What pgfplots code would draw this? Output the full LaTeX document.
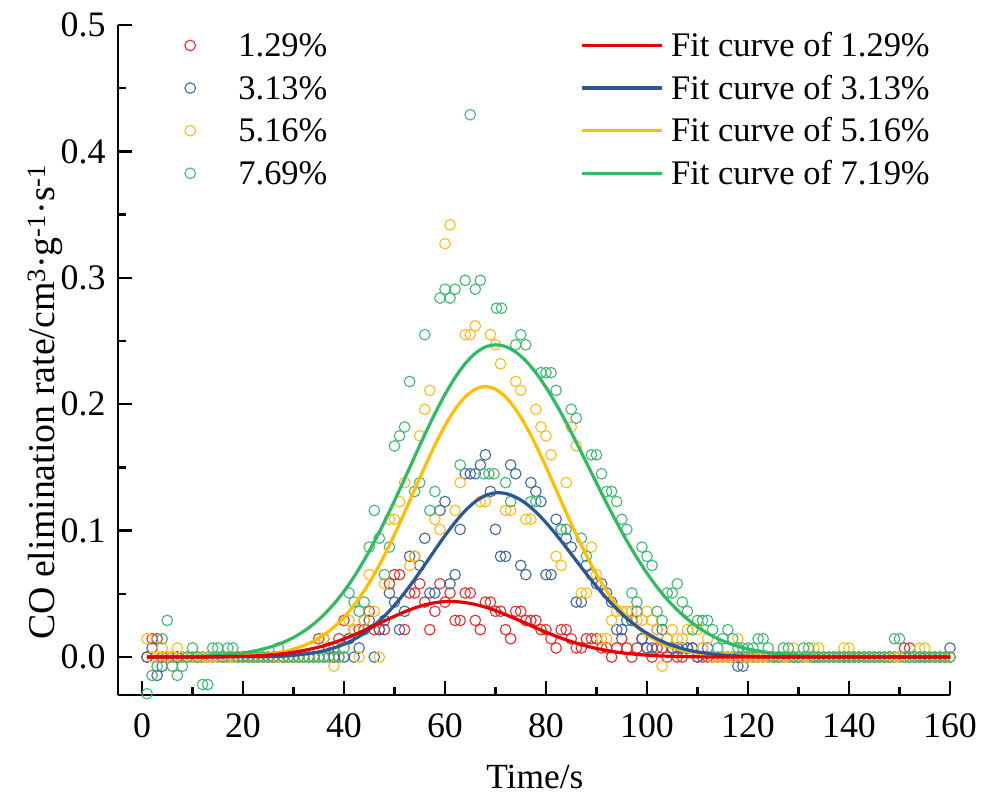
\documentclass[border=0pt]{standalone}
\usepackage{fontspec}
\setmainfont{Liberation Serif}
\usepackage{pgfplots}
\pgfplotsset{compat=1.18}
\definecolor{mred}{RGB}{232,45,45}
\definecolor{mblue}{RGB}{62,104,168}
\definecolor{myellow}{RGB}{255,188,20}
\definecolor{mgreen}{RGB}{62,186,112}
\definecolor{cred}{RGB}{228,0,0}
\definecolor{cblue}{RGB}{42,88,150}
\definecolor{cyellow}{RGB}{255,190,0}
\definecolor{cgreen}{RGB}{48,186,100}
\pgfplotsset{
  common/.style={
    scale only axis, width=832bp, height=670bp,
    xmin=-4.75, xmax=160, ymin=-0.03, ymax=0.5,
  },
  sc/.style={only marks, mark=o, mark size=5.3bp, color=#1, mark options={line width=1.1bp, solid}},
  fc/.style={no marks, smooth, line width=3.2bp, color=#1},
}
\begin{document}
\begin{tikzpicture}
\begin{axis}[common, name=main,
  axis x line*=bottom, axis y line*=left,
  axis line style={black, line width=2.4bp},
  xtick={0,20,40,60,80,100,120,140,160},
  ytick={0,0.1,0.2,0.3,0.4,0.5},
  minor x tick num=1, minor y tick num=1,
  tick align=inside,
  major tick length=14bp, minor tick length=8bp,
  tick style={black, line width=2.4bp},
  /pgf/number format/assume math mode=true,
  yticklabel style={/pgf/number format/.cd, fixed, fixed zerofill, precision=1, /tikz/.cd, xshift=-9bp},
  xticklabel style={/pgf/number format/.cd, fixed, precision=0, /tikz/.cd, yshift=-15bp},
  tick label style={font=\fontsize{36}{42}\selectfont},
  xlabel style={font=\fontsize{35.5}{42}\selectfont},
  ylabel style={font=\fontsize{38}{44}\selectfont},
  xlabel={Time/s},
  ylabel={CO elimination rate/cm\textsuperscript{3}·g\textsuperscript{-1}·s\textsuperscript{-1}},
  xlabel style={at={(rel axis cs:0.501,-0.122)}, anchor=center},
  ylabel style={at={(rel axis cs:-0.0877,0.437)}, anchor=center},
  legend cell align=left,
  legend style={draw=none, fill=none, at={(rel axis cs:0.0577,0.9978)}, anchor=north west,
    inner sep=0pt, outer sep=0pt, row sep=4.6bp, column sep=0pt,
    font=\fontsize{34.6}{40}\selectfont,
    nodes={inner sep=0pt, text height=30bp, text depth=8bp}},
  legend image code/.code={\draw[#1] plot coordinates {(24bp,0bp)}; \path (0bp,0bp) (72bp,0bp);},
]
% 1.29%
\addplot[sc=mred] table {
1 0
2 0.0145
3 0.0145
4 0
5 0
6 0
7 0
8 0
9 0
10 0
11 0
12 0
13 0
14 0
15 0
16 0
17 0
18 0
19 0
20 0
21 0
22 0
23 0
24 0
25 0
26 0
27 0
28 0
29 0
30 0
31 0
32 0
33 0
34 0
35 0.0145
36 0.0145
37 0.0072
38 0
39 0.0145
40 0.029
41 0.0145
42 0.0217
43 0.0217
44 0.029
45 0.0362
46 0.0217
47 0.0217
48 0.0217
49 0.058
50 0.0652
51 0.0652
52 0.0217
53 0.0507
54 0.0507
55 0.058
56 0.0435
57 0.0217
58 0.0362
59 0.058
60 0.0435
61 0.0507
62 0.029
63 0.029
64 0.0507
65 0.0507
66 0.029
67 0.0217
68 0.0435
69 0.0435
70 0.0362
71 0.0362
72 0.0217
73 0.0145
74 0.0362
75 0.0362
76 0.029
77 0.029
78 0.029
79 0.0217
80 0.0217
81 0.0145
82 0.0072
83 0.0217
84 0.0217
85 0.0145
86 0.0072
87 0.0072
88 0.0145
89 0.0145
90 0.0145
91 0.0072
92 0.0072
93 0
94 0.0072
95 0.0145
96 0.0072
97 0
98 0.0072
99 0.0145
100 0.0072
101 0
102 0.0072
103 0.0072
104 0
105 0.0072
106 0
107 0
108 0.0072
109 0.0072
110 0
111 0
112 0
113 0
114 0
115 0
116 0
117 0
118 0
119 0
120 0
121 0
122 0
123 0
124 0
125 0
126 0
127 0
128 0
129 0
130 0
131 0
132 0
133 0
134 0
135 0
136 0
137 0
138 0
139 0
140 0
141 0
142 0
143 0
144 0
145 0
146 0
147 0
148 0
149 0
150 0
151 0.0072
152 0.0072
153 0
154 0
155 0
156 0
157 0
158 0
159 0
160 0
};
\addlegendentry{1.29\%}
% 3.13%
\addplot[sc=mblue] table {
1 0
2 0.0072
3 -0.0145
4 -0.0072
5 0
6 0
7 0
8 0
9 0
10 0
11 0
12 0
13 0
14 0
15 0
16 0
17 0
18 0
19 0
20 0
21 0
22 0
23 0
24 0
25 0
26 0
27 0
28 0
29 0
30 0
31 0
32 0
33 0
34 0
35 0
36 0
37 0
38 0
39 0
40 0
41 0.0145
42 0
43 0.0072
44 0.0217
45 0.029
46 0
47 0.0217
48 0.029
49 0.0507
50 0.0435
51 0.0217
52 0.0362
53 0.0797
54 0.0797
55 0.0725
56 0.094
57 0.0507
58 0.0507
59 0.116
60 0.123
61 0.058
62 0.0652
63 0.101
64 0.145
65 0.145
66 0.145
67 0.152
68 0.16
69 0.131
70 0.101
71 0.0797
72 0.0797
73 0.152
74 0.145
75 0.0725
76 0.0652
77 0.138
78 0.131
79 0.123
80 0.0652
81 0.0652
82 0.109
83 0.101
84 0.094
85 0.087
86 0.0435
87 0.0435
88 0.0725
89 0.0652
90 0.058
91 0.058
92 0.0507
93 0.0435
94 0.0217
95 0.0217
96 0.029
97 0.029
98 0.0362
99 0.0145
100 0.0072
101 0.0072
102 0.0217
103 0.0217
104 0.0145
105 0.0072
106 0.0072
107 0.0072
108 0.0072
109 0.0072
110 0
111 0.0072
112 0.0072
113 0
114 0
115 0
116 0
117 0
118 -0.0072
119 -0.0072
120 0
121 0
122 0
123 0
124 0
125 0
126 0
127 0
128 0
129 0
130 0
131 0
132 0
133 0
134 0
135 0
136 0
137 0
138 0
139 0
140 0
141 0
142 0
143 0
144 0
145 0
146 0
147 0
148 0
149 0
150 0
151 0
152 0
153 0
154 0
155 0
156 0
157 0
158 0
159 0
160 0.0072
};
\addlegendentry{3.13\%}
% 5.16%
\addplot[sc=myellow] table {
1 0.0145
2 0
3 0
4 0.0072
5 0
6 0
7 0.0072
8 0
9 0
10 0
11 0
12 0
13 0
14 0
15 0
16 0
17 0
18 0
19 0
20 0
21 0
22 0
23 0
24 0
25 0
26 0
27 0
28 0
29 0
30 0
31 0
32 0
33 0
34 0
35 0
36 0.0145
37 0
38 -0.0072
39 0
40 0.0072
41 0.029
42 0.0217
43 0
44 0.029
45 0.0652
46 0.0362
47 0
48 0.058
49 0.109
50 0.109
51 0.123
52 0.138
53 0.0725
54 0.0797
55 0.175
56 0.196
57 0.211
58 0.109
59 0.101
60 0.327
61 0.342
62 0.116
63 0.138
64 0.255
65 0.255
66 0.262
67 0.123
68 0.123
69 0.255
70 0.247
71 0.232
72 0.116
73 0.116
74 0.218
75 0.211
76 0.109
77 0.109
78 0.196
79 0.182
80 0.175
81 0.16
82 0.0797
83 0.0725
84 0.138
85 0.182
86 0.167
87 0.0507
88 0.0507
89 0.087
90 0.0652
91 0.0145
92 0.0145
93 0.029
94 0.0362
95 0.0362
96 0.0362
97 0.0362
98 0.029
99 0.029
100 0.0362
101 0.029
102 0.0217
103 -0.0072
104 0.0145
105 0.0217
106 0.0145
107 0.0145
108 0.0217
109 0.0217
110 0.0217
111 0.0072
112 0.0145
113 0
114 0
115 0
116 0
117 0
118 0.0145
119 0
120 0
121 0
122 0
123 0
124 0
125 0
126 0
127 0
128 0
129 0.0072
130 0
131 0
132 0
133 0.0072
134 0.0072
135 0
136 0
137 0
138 0
139 0.0072
140 0.0072
141 0
142 0
143 0
144 0
145 0
146 0
147 0
148 0
149 0
150 0
151 0
152 0
153 0
154 0.0072
155 0.0072
156 0
157 0
158 0
159 0
160 0
};
\addlegendentry{5.16\%}
% 7.69%
\addplot[sc=mgreen] table {
1 -0.029
2 -0.0145
3 -0.0072
4 0.0145
5 0.029
6 -0.0072
7 -0.0145
8 -0.0072
9 0
10 0.0072
11 0
12 -0.0217
13 -0.0217
14 0.0072
15 0.0072
16 0
17 0.0072
18 0.0072
19 0
20 0
21 0
22 0
23 0
24 0
25 0
26 0
27 0.0072
28 0
29 0
30 0
31 0
32 0
33 0
34 0
35 0
36 0
37 0
38 0.0072
39 0
40 0.0072
41 0.0507
42 0.0435
43 0.0362
44 0.0435
45 0.087
46 0.116
47 0.094
48 0.0652
49 0.087
50 0.167
51 0.175
52 0.182
53 0.218
54 0.131
55 0.138
56 0.255
57 0.116
58 0.131
59 0.284
60 0.291
61 0.284
62 0.291
63 0.152
64 0.298
65 0.429
66 0.291
67 0.298
67.7 0.145
68.7 0.145
69.7 0.145
70.2 0.276
71.2 0.276
72 0.138
73 0.123
74 0.247
75 0.255
76 0.247
77 0.123
78 0.123
79 0.225
80 0.225
81 0.225
82 0.211
83 0.101
84 0.101
85 0.196
86 0.189
87 0.094
88 0.0797
89 0.16
90 0.16
91 0.145
92 0.131
93 0.131
94 0.123
95 0.109
96 0.101
97 0.0507
98 0.0435
99 0.087
100 0.0797
101 0.0725
102 0.0362
103 0.029
104 0.0507
105 0.0507
106 0.058
107 0.0435
108 0.0362
109 0.0217
110 0.029
111 0.029
112 0.029
113 0.0217
114 0.0072
115 0.0145
116 0.0217
117 0.0145
118 0.0072
119 0.0072
120 0.0072
121 0.0072
122 0.0145
123 0.0145
124 0.0072
125 0
126 0
127 0.0072
128 0.0072
129 0
130 0
131 0.0072
132 0.0072
133 0
134 0
135 0
136 0
137 0
138 0
139 0
140 0
141 0
142 0
143 0
144 0
145 0
146 0
147 0
148 0
149 0.0145
150 0.0145
151 0
152 0
153 0
154 0
155 0
156 0
157 0
158 0
159 0
160 0
};
\addlegendentry{7.69\%}
\end{axis}
\begin{axis}[common, hide axis,
  reverse legend,
  legend cell align=left,
  legend style={draw=none, fill=none, at={(rel axis cs:0.5553,0.9978)}, anchor=north west,
    inner sep=0pt, outer sep=0pt, row sep=4.6bp, column sep=0pt,
    font=\fontsize{34.6}{40}\selectfont,
    nodes={inner sep=0pt, text height=30bp, text depth=8bp}},
  legend image code/.code={\draw[#1] (0bp,0bp) -- (80bp,0bp); \path (88bp,0bp);},
]
\addplot[fc=cgreen] coordinates {(1,0) (10,0.0005) (16,0.0016) (20,0.0033) (22,0.0046) (24,0.0064) (26,0.0087) (28,0.0117) (30,0.0155) (32,0.0203) (34,0.0262) (36,0.0334) (38,0.042) (40,0.052) (42,0.0636) (44,0.0767) (46,0.0912) (48,0.1069) (50,0.1236) (52,0.141) (54,0.1586) (56,0.176) (58,0.1925) (60,0.2078) (62,0.2211) (64,0.2321) (66,0.2403) (68,0.2453) (70,0.247) (72,0.2456) (74,0.2413) (76,0.2344) (78,0.2249) (80,0.2134) (82,0.2001) (84,0.1855) (86,0.1699) (88,0.1539) (90,0.1377) (92,0.1218) (94,0.1065) (96,0.092) (98,0.0786) (100,0.0663) (102,0.0553) (104,0.0456) (106,0.0372) (108,0.03) (110,0.0239) (112,0.0188) (114,0.0146) (116,0.0112) (118,0.0085) (120,0.0064) (124,0.0035) (128,0.0018) (135,0.0005) (145,0) (160,0)};
\addlegendentry{Fit curve of 7.19\%}
\addplot[fc=cyellow] coordinates {(1,0) (16,0.0002) (20,0.0008) (24,0.0019) (28,0.0043) (30,0.0063) (32,0.009) (34,0.0127) (36,0.0175) (38,0.0237) (40,0.0315) (42,0.041) (44,0.0523) (46,0.0655) (48,0.0805) (50,0.0969) (52,0.1144) (54,0.1325) (56,0.1505) (58,0.1676) (60,0.183) (62,0.196) (64,0.2058) (66,0.2119) (68,0.214) (70,0.2119) (72,0.2058) (74,0.196) (76,0.183) (78,0.1676) (80,0.1505) (82,0.1325) (84,0.1144) (86,0.0969) (88,0.0805) (90,0.0655) (92,0.0523) (94,0.041) (96,0.0315) (98,0.0237) (100,0.0175) (102,0.0127) (104,0.009) (106,0.0063) (108,0.0043) (112,0.0019) (116,0.0008) (120,0.0002) (130,0) (160,0)};
\addlegendentry{Fit curve of 5.16\%}
\addplot[fc=cblue] coordinates {(1,0) (24,0.0003) (30,0.0014) (34,0.0034) (36,0.005) (38,0.0072) (40,0.0101) (42,0.014) (44,0.0189) (46,0.0251) (48,0.0324) (50,0.041) (52,0.0508) (54,0.0616) (56,0.073) (58,0.0847) (60,0.0961) (62,0.1066) (64,0.1158) (66,0.123) (68,0.1278) (70,0.1299) (72,0.1294) (74,0.1265) (76,0.1216) (78,0.1147) (80,0.1064) (82,0.0969) (84,0.0867) (86,0.0762) (88,0.0658) (90,0.0558) (92,0.0465) (94,0.0381) (96,0.0306) (98,0.0242) (100,0.0188) (102,0.0143) (104,0.0107) (106,0.0079) (108,0.0057) (110,0.0041) (114,0.0019) (118,0.0009) (124,0.0002) (135,0) (160,0)};
\addlegendentry{Fit curve of 3.13\%}
\addplot[fc=cred] coordinates {(1,0) (12,0.0001) (20,0.0006) (24,0.0013) (28,0.0027) (30,0.0038) (32,0.0052) (34,0.0069) (36,0.0089) (38,0.0114) (40,0.0143) (42,0.0175) (44,0.0211) (46,0.0248) (48,0.0286) (50,0.0323) (52,0.0358) (54,0.0388) (56,0.0413) (58,0.043) (60,0.0439) (62,0.0439) (64,0.0431) (66,0.0416) (68,0.0395) (70,0.0368) (72,0.0336) (74,0.0302) (76,0.0267) (78,0.0231) (80,0.0197) (82,0.0165) (84,0.0136) (86,0.011) (88,0.0087) (90,0.0068) (92,0.0052) (94,0.0039) (96,0.0029) (100,0.0015) (104,0.0007) (110,0.0002) (120,0) (160,0)};
\addlegendentry{Fit curve of 1.29\%}
\end{axis}
\path (main.south west) ++(-118bp,-105bp) rectangle ([xshift=43bp,yshift=25bp]main.north east);
\end{tikzpicture}
\end{document}
